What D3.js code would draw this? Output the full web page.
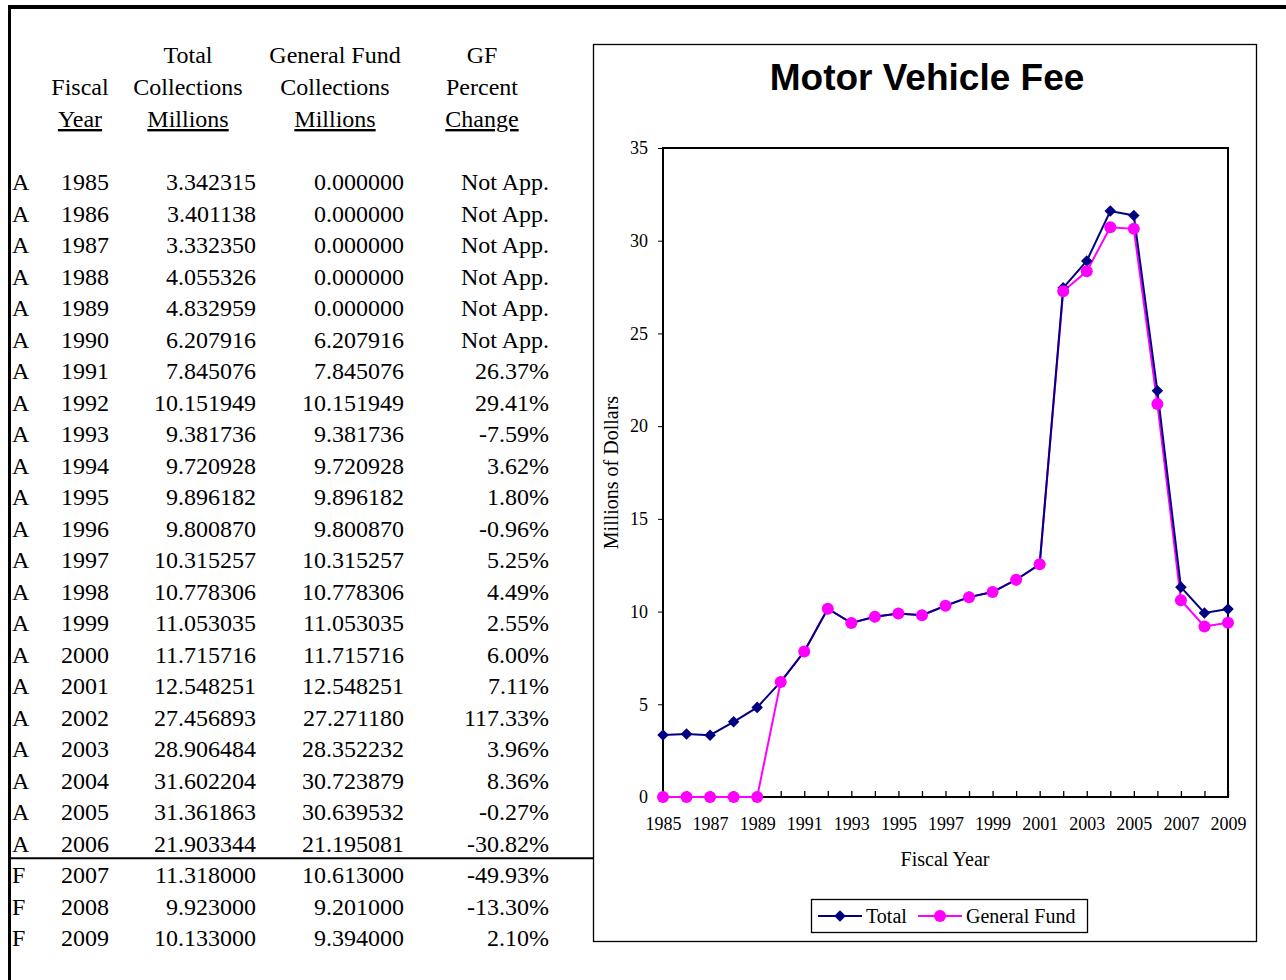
<!DOCTYPE html>
<html>
<head>
<meta charset="utf-8">
<script src="https://cdn.jsdelivr.net/npm/d3@7"></script>
<style>
  body { margin: 0; background: #fff; }
  svg { display: block; }
  .tbl { font-family: "Liberation Serif", "Times New Roman", serif; font-size: 24px; fill: #000; }
  .ax text { font-family: "Liberation Serif", "Times New Roman", serif; font-size: 18px; fill: #000; }
  .ax path, .ax line { stroke: #000; }
  .lbl { font-family: "Liberation Serif", "Times New Roman", serif; font-size: 20px; fill: #000; }
</style>
</head>
<body>
<svg id="page" width="1286" height="980"></svg>
<script>
// ---------- data ----------
const status = ["A","A","A","A","A","A","A","A","A","A","A","A","A","A","A","A","A","A","A","A","A","A","F","F","F"];
const years = [1985,1986,1987,1988,1989,1990,1991,1992,1993,1994,1995,1996,1997,1998,1999,2000,2001,2002,2003,2004,2005,2006,2007,2008,2009];
const totalColl = [3.342315,3.401138,3.332350,4.055326,4.832959,6.207916,7.845076,10.151949,9.381736,9.720928,9.896182,9.800870,10.315257,10.778306,11.053035,11.715716,12.548251,27.456893,28.906484,31.602204,31.361863,21.903344,11.318000,9.923000,10.133000];
const gfColl = [0,0,0,0,0,6.207916,7.845076,10.151949,9.381736,9.720928,9.896182,9.800870,10.315257,10.778306,11.053035,11.715716,12.548251,27.271180,28.352232,30.723879,30.639532,21.195081,10.613000,9.201000,9.394000];
const gfPctChange = [null,null,null,null,null,null,26.37,29.41,-7.59,3.62,1.80,-0.96,5.25,4.49,2.55,6.00,7.11,117.33,3.96,8.36,-0.27,-30.82,-49.93,-13.30,2.10];
const yTicks = [0,5,10,15,20,25,30,35];
const xTickLabels = [1985,1987,1989,1991,1993,1995,1997,1999,2001,2003,2005,2007,2009];
const seriesNames = ["Total","General Fund"];

const svg = d3.select("#page");

// ---------- page frame ----------
svg.append("rect").attr("x", 8).attr("y", 5).attr("width", 1290).attr("height", 4).attr("fill", "#000");
svg.append("rect").attr("x", 8).attr("y", 5).attr("width", 3).attr("height", 980).attr("fill", "#000");

// ---------- table ----------
const tbl = svg.append("g").attr("class", "tbl");
const headerRows = [63, 95, 127];
const headers = [
  { x: 80,  lines: ["", "Fiscal", "Year"] },
  { x: 188, lines: ["Total", "Collections", "Millions"] },
  { x: 335, lines: ["General Fund", "Collections", "Millions"] },
  { x: 482, lines: ["GF", "Percent", "Change"] }
];
headers.forEach(h => {
  h.lines.forEach((t, i) => {
    if (!t) return;
    tbl.append("text").attr("x", h.x).attr("y", headerRows[i])
      .attr("text-anchor", "middle")
      .style("text-decoration", i === 2 ? "underline" : null)
      .text(t);
  });
});

const rowY = d3.scaleLinear().domain([0, years.length - 1]).range([190, 946]);
years.forEach((yr, i) => {
  const y = rowY(i);
  tbl.append("text").attr("x", 12).attr("y", y).text(status[i]);
  tbl.append("text").attr("x", 109).attr("y", y).attr("text-anchor", "end").text(yr);
  tbl.append("text").attr("x", 256).attr("y", y).attr("text-anchor", "end").text(totalColl[i].toFixed(6));
  tbl.append("text").attr("x", 404).attr("y", y).attr("text-anchor", "end").text(gfColl[i].toFixed(6));
  tbl.append("text").attr("x", 549).attr("y", y).attr("text-anchor", "end")
    .text(gfPctChange[i] === null ? "Not App." : gfPctChange[i].toFixed(2) + "%");
});
// rule between actual and forecast rows
const lastActual = status.lastIndexOf("A");
const ruleY = (rowY(lastActual) + rowY(lastActual + 1)) / 2 - 9;
svg.append("line").attr("x1", 10).attr("x2", 593).attr("y1", ruleY).attr("y2", ruleY)
  .attr("stroke", "#000").attr("stroke-width", 2);

// ---------- chart ----------
svg.append("rect").attr("x", 593.5).attr("y", 44.5).attr("width", 663).attr("height", 897)
  .attr("fill", "#fff").attr("stroke", "#000").attr("stroke-width", 1.3);

svg.append("text").attr("x", 927).attr("y", 90).attr("text-anchor", "middle")
  .style("font-family", "'Liberation Sans', Arial, sans-serif").style("font-weight", "bold")
  .style("font-size", "37px").text("Motor Vehicle Fee");

const plot = { left: 663, right: 1228, top: 148, bottom: 797 };
const x = d3.scalePoint().domain(years).range([plot.left, plot.right]);
const y = d3.scaleLinear().domain([0, 35]).range([plot.bottom, plot.top]);

svg.append("rect").attr("x", plot.left).attr("y", plot.top)
  .attr("width", plot.right - plot.left).attr("height", plot.bottom - plot.top)
  .attr("fill", "none").attr("stroke", "#000").attr("stroke-width", 2);

svg.append("g").attr("class", "ax").attr("transform", `translate(${plot.left},0)`)
  .call(d3.axisLeft(y).tickValues(yTicks).tickSize(5).tickPadding(10).tickSizeOuter(0))
  .call(g => g.select(".domain").remove());

// year ticks point into the plot, labels every second year
const xAx = svg.append("g").attr("class", "ax").attr("transform", `translate(0,${plot.bottom})`)
  .call(d3.axisBottom(x).tickSize(-6).tickPadding(20)
    .tickFormat(d => xTickLabels.includes(d) ? d : ""))
  .call(g => g.select(".domain").remove());
xAx.selectAll(".tick line").attr("stroke-width", 1.3);

svg.append("text").attr("class", "lbl")
  .attr("transform", `translate(618,${(plot.top + plot.bottom) / 2}) rotate(-90)`)
  .attr("text-anchor", "middle").text("Millions of Dollars");
svg.append("text").attr("class", "lbl").attr("x", 945).attr("y", 866)
  .attr("text-anchor", "middle").text("Fiscal Year");

const line = d3.line().x((d, i) => x(years[i])).y(d => y(d));
const colors = ["#000080", "#ff00ff"];
const diamond = d3.symbol().type(d3.symbolDiamond2).size(85);

svg.append("path").datum(gfColl).attr("d", line)
  .attr("fill", "none").attr("stroke", colors[1]).attr("stroke-width", 2);
svg.append("path").datum(totalColl).attr("d", line)
  .attr("fill", "none").attr("stroke", colors[0]).attr("stroke-width", 2);

svg.append("g").selectAll("path").data(totalColl).join("path")
  .attr("d", diamond).attr("fill", colors[0])
  .attr("transform", (d, i) => `translate(${x(years[i])},${y(d)})`);
svg.append("g").selectAll("circle").data(gfColl).join("circle")
  .attr("cx", (d, i) => x(years[i])).attr("cy", d => y(d)).attr("r", 6)
  .attr("fill", colors[1]);

// ---------- legend ----------
const lg = svg.append("g");
lg.append("rect").attr("x", 811.5).attr("y", 899.5).attr("width", 276).attr("height", 33)
  .attr("fill", "#fff").attr("stroke", "#000").attr("stroke-width", 1.3);
const legendItems = [
  { name: seriesNames[0], x0: 818, tx: 866 },
  { name: seriesNames[1], x0: 918, tx: 966 }
];
legendItems.forEach((it, i) => {
  lg.append("line").attr("x1", it.x0).attr("x2", it.x0 + 44).attr("y1", 916).attr("y2", 916)
    .attr("stroke", colors[i]).attr("stroke-width", 2);
  if (i === 0) {
    lg.append("path").attr("d", diamond).attr("fill", colors[0])
      .attr("transform", `translate(${it.x0 + 22},916)`);
  } else {
    lg.append("circle").attr("cx", it.x0 + 22).attr("cy", 916).attr("r", 6).attr("fill", colors[1]);
  }
  lg.append("text").attr("class", "lbl").attr("x", it.tx).attr("y", 923).text(it.name);
});
</script>
</body>
</html>
